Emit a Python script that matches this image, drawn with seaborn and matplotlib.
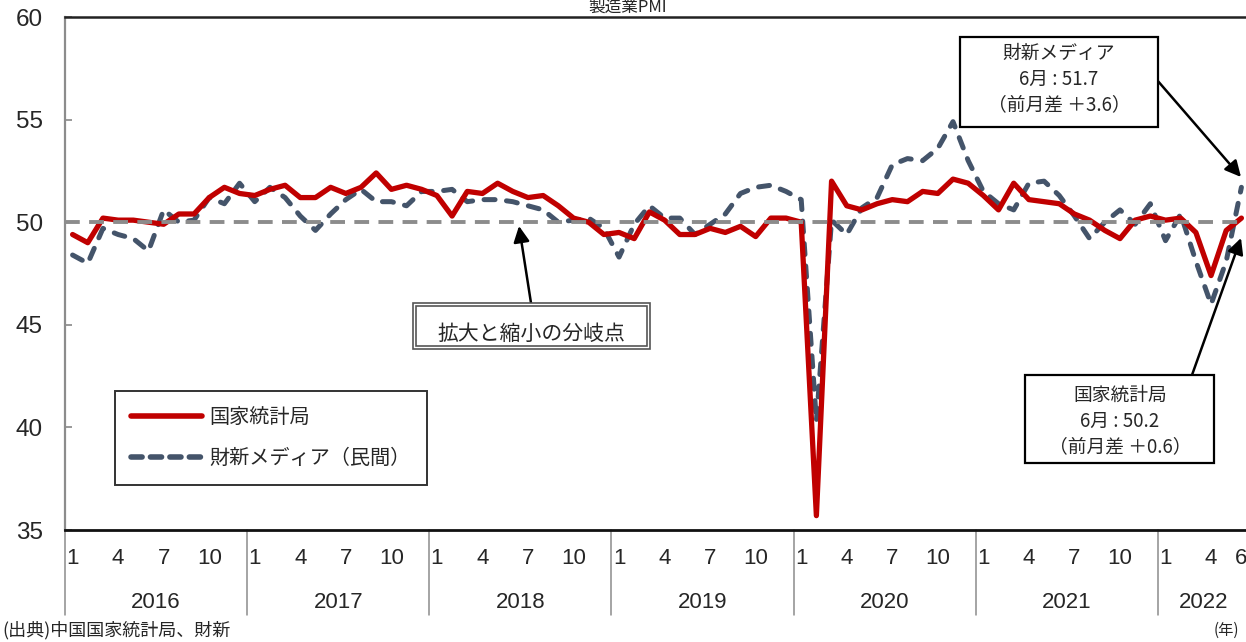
"""Manufacturing PMI chart: NBS vs Caixin, monthly 2016-01 .. 2022-06."""
import matplotlib
matplotlib.use("Agg")
import matplotlib.pyplot as plt
from matplotlib import font_manager
from matplotlib.lines import Line2D
from matplotlib.patches import Rectangle
from matplotlib.transforms import blended_transform_factory
import pandas as pd
import seaborn as sns

YEARS = [2016, 2017, 2018, 2019, 2020, 2021, 2022]
MONTHS_PER_YEAR = [12, 12, 12, 12, 12, 12, 6]
MONTH_TICKS = [1, 4, 7, 10]
LAST_YEAR_TICKS = [1, 4, 6]

NBS_PMI = [
    49.4, 49.0, 50.2, 50.1, 50.1, 50.0, 49.9, 50.4, 50.4, 51.2, 51.7, 51.4,
    51.3, 51.6, 51.8, 51.2, 51.2, 51.7, 51.4, 51.7, 52.4, 51.6, 51.8, 51.6,
    51.3, 50.3, 51.5, 51.4, 51.9, 51.5, 51.2, 51.3, 50.8, 50.2, 50.0, 49.4,
    49.5, 49.2, 50.5, 50.1, 49.4, 49.4, 49.7, 49.5, 49.8, 49.3, 50.2, 50.2,
    50.0, 35.7, 52.0, 50.8, 50.6, 50.9, 51.1, 51.0, 51.5, 51.4, 52.1, 51.9,
    51.3, 50.6, 51.9, 51.1, 51.0, 50.9, 50.4, 50.1, 49.6, 49.2, 50.1, 50.3,
    50.1, 50.2, 49.5, 47.4, 49.6, 50.2,
]
CAIXIN_PMI = [
    48.4, 48.0, 49.7, 49.4, 49.2, 48.6, 50.6, 50.0, 50.1, 51.2, 50.9, 51.9,
    51.0, 51.7, 51.2, 50.3, 49.6, 50.4, 51.1, 51.6, 51.0, 51.0, 50.8, 51.5,
    51.5, 51.6, 51.0, 51.1, 51.1, 51.0, 50.8, 50.6, 50.0, 50.1, 50.2, 49.7,
    48.3, 49.9, 50.8, 50.2, 50.2, 49.4, 49.9, 50.4, 51.4, 51.7, 51.8, 51.5,
    51.1, 40.3, 50.1, 49.4, 50.7, 51.2, 52.8, 53.1, 53.0, 53.6, 54.9, 53.0,
    51.5, 50.9, 50.6, 51.9, 52.0, 51.3, 50.3, 49.2, 50.0, 50.6, 49.9, 50.9,
    49.1, 50.4, 48.1, 46.0, 48.1, 51.7,
]
THRESHOLD = 50

RED = "#C00000"
SLATE = "#44546A"
GRAY = "#8C8C8C"

W, H = 1246, 642

sns.set_theme(style="white")
installed = {f.name for f in font_manager.fontManager.ttflist}
JP = ["Noto Sans CJK JP", "DejaVu Sans"]
NUM = ["Liberation Sans", "DejaVu Sans"]
NARROW = ["Liberation Sans Narrow", "Liberation Sans", "DejaVu Sans"]
if "Liberation Sans Narrow" not in installed:
    NARROW = NUM
plt.rcParams["font.family"] = JP


def fx(px):
    return px / W


def fy(py):
    return 1 - py / H


df = pd.DataFrame({
    "idx": range(len(NBS_PMI)),
    "nbs": NBS_PMI,
    "caixin": CAIXIN_PMI,
})

fig = plt.figure(figsize=(W / 100, H / 100), dpi=100)
ax = fig.add_axes([fx(65), fy(530), (1249 - 65) / W, 513 / H])

sns.lineplot(data=df, x="idx", y="caixin", ax=ax, color=SLATE, lw=3.6, zorder=3)
sns.lineplot(data=df, x="idx", y="nbs", ax=ax, color=RED, lw=3.8, zorder=4)
cx_line = ax.lines[0]
cx_line.set_dashes((2.2, 2.3))
cx_line.set_dash_capstyle("round")
for ln in ax.lines:
    ln.set_solid_joinstyle("round")

ref = ax.axhline(THRESHOLD, color=GRAY, lw=2.8, zorder=5)
ref.set_dashes((3.8, 2.4))

ax.set_xlim(-0.5, len(NBS_PMI) - 0.5)
ax.set_ylim(35, 60)
ax.set_yticks([35, 40, 45, 50, 55, 60])
ax.set_yticklabels([str(v) for v in [35, 40, 45, 50, 55, 60]], fontfamily=NUM, fontsize=17.5)
ax.tick_params(axis="y", direction="in", length=5, color=GRAY, pad=16, left=True)
ax.set_xticks([])
ax.set_xlabel("")
ax.set_ylabel("")

ax.spines["right"].set_visible(False)
ax.spines["left"].set_color(GRAY)
ax.spines["left"].set_linewidth(1.6)
ax.spines["top"].set_color("#222222")
ax.spines["top"].set_linewidth(1.8)
ax.spines["bottom"].set_color("#111111")
ax.spines["bottom"].set_linewidth(2.0)

# custom two-level x axis: month numbers and years
trans = blended_transform_factory(ax.transData, ax.transAxes)
start = 0
for year, n in zip(YEARS, MONTHS_PER_YEAR):
    ax.plot([start - 0.5, start - 0.5], [0, -0.166], transform=trans,
            color=GRAY, lw=1.1, clip_on=False)
    ticks = LAST_YEAR_TICKS if n < 12 else MONTH_TICKS
    for m in ticks:
        ax.text(start + m - 1, -0.055, str(m), transform=trans, ha="center",
                va="center", fontsize=16, fontfamily=NARROW)
    ax.text(start + (n - 1) / 2, -0.142, str(year), transform=trans,
            ha="center", va="center", fontsize=16, fontfamily=NARROW)
    start += n

# title and footnotes (kept just inside the picture)
fig.text(fx(628), fy(7), "製造業PMI", ha="center", va="center", fontsize=12)
fig.text(fx(2), fy(630), "(出典)中国国家統計局、財新", ha="left", va="center", fontsize=13)
fig.text(fx(1214), fy(630), "(年)", ha="left", va="center", fontsize=11)

# legend
handles = [
    Line2D([], [], color=RED, lw=4.0, solid_capstyle="round"),
    Line2D([], [], color=SLATE, lw=4.0, dashes=(2.0, 1.5), dash_capstyle="round"),
]
leg = ax.legend(handles, ["国家統計局", "財新メディア（民間）"], loc="lower left",
                bbox_to_anchor=((115 - 65) / 1184, (530 - 485) / 513),
                fontsize=14.5, frameon=True, fancybox=False, handlelength=3.5,
                handletextpad=0.4, labelspacing=1.0, borderpad=0.8,
                borderaxespad=0)
leg.get_frame().set_edgecolor("black")
leg.get_frame().set_linewidth(1.4)
leg._legend_box.sep = 0


def box(x0, y0, x1, y1, lines, ys, cx, edge="black", lw=1.6, double=False, size=13.5):
    fig.add_artist(Rectangle((fx(x0), fy(y1)), fx(x1 - x0), (y1 - y0) / H,
                             transform=fig.transFigure, facecolor="white",
                             edgecolor=edge, lw=lw, zorder=6))
    if double:
        fig.add_artist(Rectangle((fx(x0 + 3), fy(y1 - 3)), fx(x1 - x0 - 6),
                                 (y1 - y0 - 6) / H, transform=fig.transFigure,
                                 facecolor="none", edgecolor=edge, lw=lw, zorder=6))
    for txt, yy in zip(lines, ys):
        fig.text(fx(cx), fy(yy), txt, ha="center", va="center", fontsize=size, zorder=7)


arrow = dict(arrowstyle="-|>", color="black", lw=1.8, mutation_scale=24,
             shrinkA=0, shrinkB=0)


def arrow_px(tail, tip):
    ax.annotate("", xy=(fx(tip[0]), fy(tip[1])), xycoords="figure fraction",
                xytext=(fx(tail[0]), fy(tail[1])), textcoords="figure fraction",
                arrowprops=arrow, zorder=8, annotation_clip=False)


box(413, 303, 650, 349, ["拡大と縮小の分岐点"], [334], 531, edge="#555555", lw=1.2,
    double=True, size=15)
arrow_px((531, 303), (519, 226))

box(960, 37, 1158, 127, ["財新メディア", "6月 : 51.7", "（前月差 ＋3.6）"],
    [53, 79, 105], 1059)
arrow_px((1157, 80), (1241, 177))

box(1025, 375, 1214, 463, ["国家統計局", "6月 : 50.2", "（前月差 ＋0.6）"],
    [395, 421, 447], 1120)
arrow_px((1192, 375), (1241, 238))

fig.savefig("out.png", dpi=100)
